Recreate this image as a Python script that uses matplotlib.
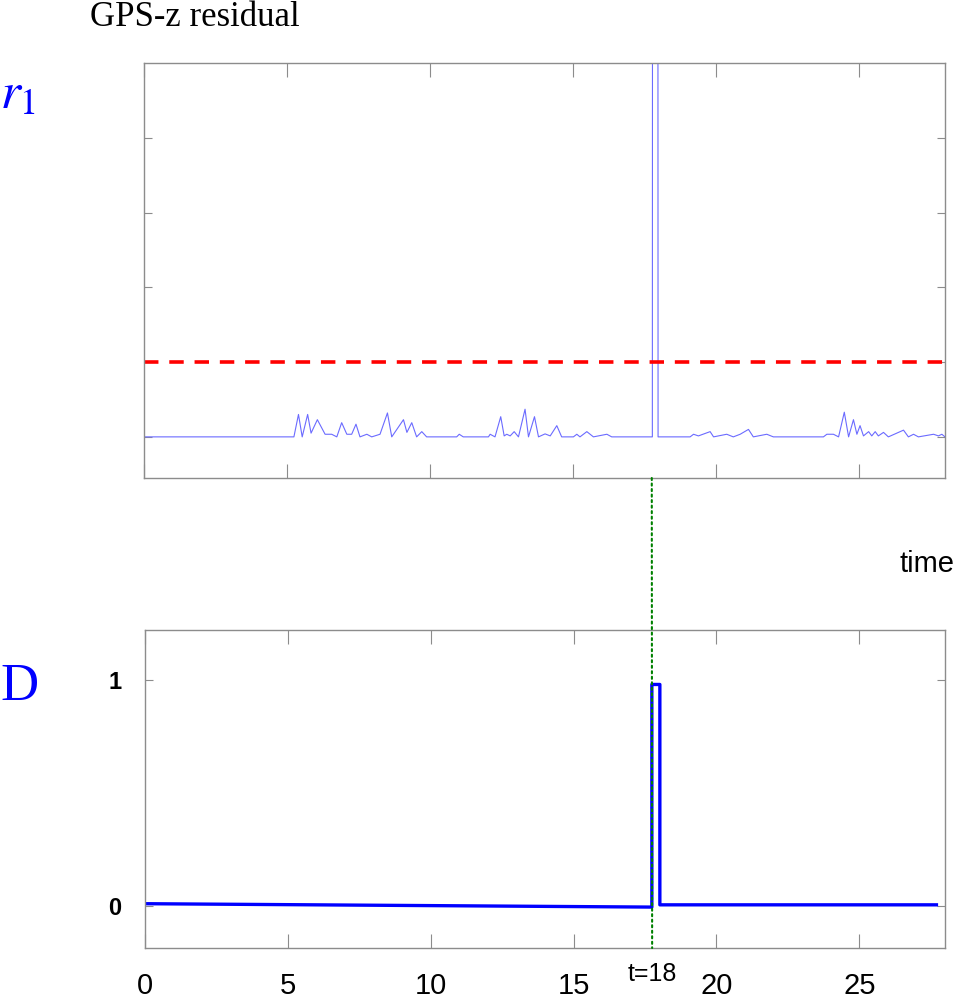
import matplotlib
matplotlib.use("Agg")
import matplotlib.pyplot as plt
from matplotlib.patches import ConnectionPatch

# residual r1 (GPS-z)
t_r = [0, 5.24, 5.40, 5.53, 5.72, 5.84, 6.06, 6.33, 6.56, 6.74, 6.91, 7.09, 7.26,
       7.41, 7.55, 7.79, 7.96, 8.25, 8.51, 8.66, 9.07, 9.19, 9.36, 9.53, 9.71,
       9.88, 10.93, 11.02, 11.16, 12.04, 12.10, 12.27, 12.47, 12.59, 12.68, 12.80,
       12.94, 13.09, 13.32, 13.44, 13.65, 13.79, 14.02, 14.20, 14.43, 14.60, 15.01,
       15.13, 15.24, 15.48, 15.71, 16.18, 16.35, 17.77, 17.78, 17.96, 17.97, 19.09,
       19.21, 19.38, 19.79, 19.91, 20.37, 20.60, 20.84, 21.13, 21.30, 21.77, 22.00,
       23.75, 23.87, 24.10, 24.28, 24.48, 24.63, 24.80, 24.92, 25.03, 25.15, 25.33,
       25.44, 25.56, 25.67, 25.85, 26.02, 26.55, 26.72, 26.90, 27.07, 27.60, 27.77,
       27.89, 28.0]
r1 = [0, 0, 0.30, 0, 0.30, 0.05, 0.23, 0.035, 0.035, 0, 0.19, 0.035, 0.035,
      0.17, 0, 0.035, 0, 0.035, 0.32, 0, 0.23, 0.06, 0.19, 0, 0.07,
      0, 0, 0.035, 0, 0, 0.035, 0, 0.27, 0.013, 0.035, 0.013,
      0.07, 0, 0.37, 0, 0.27, 0, 0.04, 0.013, 0.15, 0, 0,
      0.035, 0, 0.07, 0, 0.035, 0, 0, 12, 12, 0, 0,
      0.035, 0.013, 0.07, 0, 0.035, 0, 0.035, 0.10, 0, 0.035, 0,
      0, 0.035, 0.035, 0, 0.33, 0, 0.23, 0.035, 0.15, 0.013, 0.07,
      0.013, 0.07, 0.013, 0.06, 0, 0.09, 0, 0.035, 0, 0.035, 0.013,
      0.035, 0]
threshold = 1.0

# decision signal D
t_d = [0, 17.74, 17.74, 18.02, 18.02, 27.7]
d_vals = [0.01, -0.005, 0.98, 0.98, 0.005, 0.005]

t_fault = 17.75
x_ticks = [0, 5, 10, 15, 20, 25]
d_ticks = [0, 1]

W, H = 955, 1000
fig = plt.figure(figsize=(W / 100, H / 100), dpi=100)
plt.rcParams['mathtext.fontset'] = 'stix'

spine_col = '#8c8c8c'

# top panel: residual
ax1 = fig.add_axes([144 / W, 1 - 478 / H, 801 / W, 415 / H])
ax1.plot(t_r, r1, color='#6b6bff', lw=0.8)
dash = ax1.axhline(threshold, color='#ff0000', lw=2.6)
dash.set_dashes([4.0, 3.0])
ax1.set_xlim(0, 28)
ax1.set_ylim(-0.55, 5)
ax1.set_xticks(x_ticks)
ax1.set_yticks([0, 1, 2, 3, 4])
ax1.tick_params(axis='x', direction='in', length=10, top=True, labelbottom=False,
                color=spine_col)
ax1.tick_params(axis='y', direction='in', length=6, right=True, labelleft=False,
                color=spine_col)
for s in ax1.spines.values():
    s.set_color(spine_col)
    s.set_linewidth(1.0)

# bottom panel: decision
ax2 = fig.add_axes([145 / W, 1 - 948 / H, 800 / W, 318 / H])
ax2.plot(t_d, d_vals, color='#0000ff', lw=2.4)
ax2.set_xlim(0, 28)
ax2.set_ylim(-0.186, 1.221)
ax2.set_xticks(x_ticks)
ax2.set_xticklabels([str(v) for v in x_ticks], fontsize=21, family='Liberation Sans')
ax2.set_yticks(d_ticks)
ax2.set_yticklabels([str(v) for v in d_ticks], fontsize=17, family='Liberation Sans',
                    fontweight='bold')
ax2.tick_params(axis='x', direction='in', length=10, top=True, pad=17, color=spine_col)
ax2.tick_params(axis='y', direction='in', length=6, right=True, pad=17, color=spine_col)
for s in ax2.spines.values():
    s.set_color(spine_col)
    s.set_linewidth(1.0)

# fault instant marker spanning both panels
con = ConnectionPatch(xyA=(t_fault, -0.55), coordsA=ax1.transData,
                      xyB=(t_fault, -0.186), coordsB=ax2.transData,
                      color='#008000', lw=1.5, linestyle=':')
fig.add_artist(con)
ax2.text(t_fault, -0.082, 't=18', transform=ax2.get_xaxis_transform(),
         ha='center', va='center', fontsize=18, family='Liberation Sans', clip_on=False)

# labels
fig.text(90 / W, 1 - 26 / H, 'GPS-z residual', fontsize=25, family='Liberation Serif',
         va='baseline')
fig.text(0.0, 1 - 108 / H, '$r_1$', fontsize=37, color='#0000ff', va='baseline')
fig.text(0.0, 1 - 700 / H, 'D', fontsize=38, color='#0000ff', family='Liberation Serif',
         va='baseline')
fig.text(899 / W, 1 - 572 / H, 'time', fontsize=21, family='Liberation Sans',
         va='baseline')

plt.savefig("out.png", dpi=100)
plt.close()
